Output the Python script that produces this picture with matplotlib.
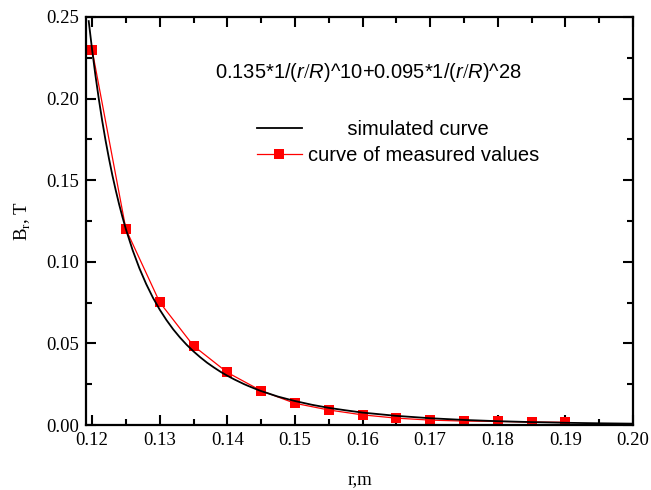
import numpy as np
import matplotlib
matplotlib.use("Agg")
from matplotlib import pyplot as plt
from matplotlib.ticker import MultipleLocator

plt.rcParams['mathtext.fontset'] = 'custom'
plt.rcParams['mathtext.rm'] = 'Liberation Serif'
plt.rcParams['mathtext.it'] = 'Liberation Sans:italic'

# measured values (red squares)
r_meas = [0.120, 0.125, 0.130, 0.135, 0.140, 0.145, 0.150, 0.155,
          0.160, 0.165, 0.170, 0.175, 0.180, 0.185, 0.190]
b_meas = [0.230, 0.120, 0.0752, 0.0485, 0.0322, 0.0210, 0.0133, 0.0092,
          0.0062, 0.0042, 0.0030, 0.0024, 0.0022, 0.0018, 0.0017]

# simulated curve
r_sim = [0.1195, 0.120, 0.1205, 0.121, 0.1215, 0.122, 0.1225, 0.123, 0.1235,
         0.124, 0.1245, 0.125, 0.126, 0.127, 0.128, 0.129, 0.130, 0.131,
         0.132, 0.133, 0.134, 0.135, 0.136, 0.137, 0.138, 0.139, 0.140,
         0.141, 0.1425, 0.143, 0.144, 0.145, 0.1475, 0.150, 0.1525, 0.155,
         0.1575, 0.160, 0.165, 0.170, 0.175, 0.180, 0.185, 0.190, 0.195, 0.200]
b_sim = [0.2475, 0.2300, 0.2141, 0.1996, 0.1863, 0.1742, 0.1632, 0.1530, 0.1438,
         0.1352, 0.1273, 0.1200, 0.1071, 0.0960, 0.0864, 0.0780, 0.0707, 0.0643,
         0.0586, 0.0536, 0.0491, 0.0451, 0.0415, 0.0382, 0.0353, 0.0326, 0.0302,
         0.0280, 0.0250, 0.0241, 0.0224, 0.0208, 0.0174, 0.0147, 0.0124, 0.0105,
         0.0090, 0.0076, 0.0056, 0.00415, 0.0031, 0.00234, 0.00178, 0.00136, 0.00105, 0.00082]

formula = "0.135*1/($r/R$)^10+0.095*1/($r/R$)^28"

fig = plt.figure(figsize=(6.51, 4.90), dpi=100)
ax = fig.add_axes([86/651, 1-425/490, (633-86)/651, (425-17)/490])

ax.plot(r_sim, b_sim, color="black", linewidth=1.3, label="       simulated curve", zorder=3)
ax.plot(r_meas, b_meas, color="red", linewidth=0.9, marker="s", markersize=7,
        markeredgewidth=0, label="curve of measured values", zorder=2)

ax.set_xlim(0.1191, 0.20)
ax.set_ylim(0, 0.25)
ax.xaxis.set_major_locator(MultipleLocator(0.01))
ax.xaxis.set_minor_locator(MultipleLocator(0.005))
ax.yaxis.set_major_locator(MultipleLocator(0.05))
ax.yaxis.set_minor_locator(MultipleLocator(0.025))
ax.xaxis.set_major_formatter(matplotlib.ticker.FormatStrFormatter("%.2f"))
ax.yaxis.set_major_formatter(matplotlib.ticker.FormatStrFormatter("%.2f"))
ax.tick_params(which="both", direction="in", top=True, right=True, width=1.5)
ax.tick_params(which="major", length=7, labelsize=13.5, pad=5)
ax.tick_params(which="minor", length=4)
for lab in ax.get_xticklabels() + ax.get_yticklabels():
    lab.set_family("Liberation Serif")
for s in ax.spines.values():
    s.set_linewidth(1.6)

ax.set_xlabel("r,m", family="Liberation Serif", fontsize=13.5, labelpad=16)
ax.set_ylabel("B$_\\mathrm{r}$, T", family="Liberation Serif", fontsize=13.5, labelpad=10)

ax.text(0.235, 0.865, formula, transform=ax.transAxes, family="Liberation Sans",
        fontsize=14.5, va="center")

leg = ax.legend(loc="upper left", bbox_to_anchor=(0.28, 0.793), frameon=False,
                prop={"family": "Liberation Sans", "size": 14.5},
                handlelength=2.2, handletextpad=0.3, labelspacing=0.35)

fig.savefig("out.png", dpi=100)
